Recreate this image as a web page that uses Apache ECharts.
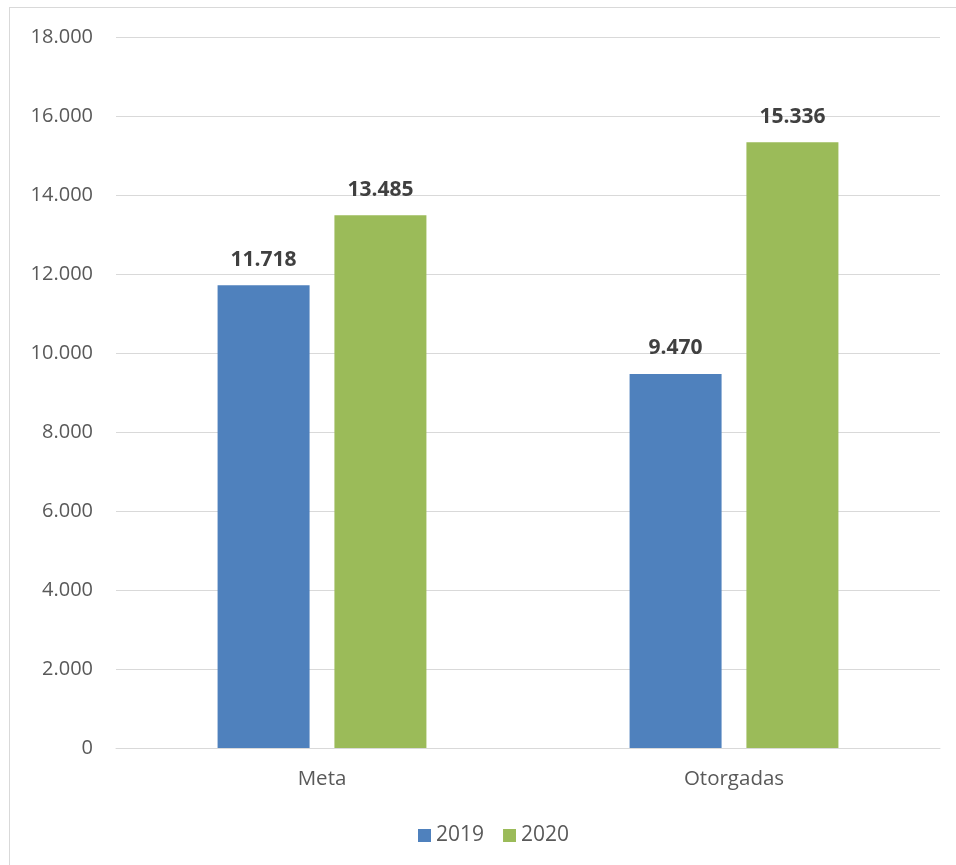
<!DOCTYPE html>
<html>
<head>
<meta charset="utf-8">
<script src="https://cdn.jsdelivr.net/npm/echarts@6/dist/echarts.min.js"></script>
<style>
  html, body { margin: 0; padding: 0; background: #fff; }
  #frame { position: absolute; left: 9px; top: 7px; width: 960px; height: 870px; border: 1px solid #d9d9d9; box-sizing: border-box; }
  #chart { position: absolute; left: 0; top: 0; width: 956px; height: 865px; }
</style>
</head>
<body>
<div id="frame"></div>
<div id="chart"></div>
<script>
const categories = ['Meta', 'Otorgadas'];
const seriesNames = ['2019', '2020'];
const values2019 = [11718, 9470];
const values2020 = [13485, 15336];
const colors = ['#4F81BD', '#9BBB59'];

const fmt = v => String(Math.round(v)).replace(/\B(?=(\d{3})+(?!\d))/g, '.');
const fontFamily = "'Open Sans', 'Noto Sans', sans-serif";

const chart = echarts.init(document.getElementById('chart'));
chart.setOption({
  animation: false,
  textStyle: { fontFamily },
  grid: { left: 116, right: 16, top: 37, bottom: 117, containLabel: false },
  legend: {
    data: seriesNames,
    top: 820,
    left: 413,
    itemWidth: 13,
    itemHeight: 13,
    itemGap: 19,
    icon: 'rect',
    textStyle: { fontSize: 21, color: '#595959', fontFamily }
  },
  xAxis: {
    type: 'category',
    data: categories,
    axisLine: { lineStyle: { color: '#d9d9d9', width: 1 } },
    axisTick: { show: false },
    axisLabel: { fontSize: 20.5, color: '#595959', margin: 21, fontFamily }
  },
  yAxis: {
    type: 'value',
    min: 0,
    max: 18000,
    interval: 2000,
    axisLine: { show: false },
    axisTick: { show: false },
    splitLine: { lineStyle: { color: '#d9d9d9', width: 1 } },
    axisLabel: { fontSize: 20, color: '#595959', margin: 23, formatter: fmt, fontFamily }
  },
  series: [
    { name: seriesNames[0], data: values2019, color: colors[0] },
    { name: seriesNames[1], data: values2020, color: colors[1] }
  ].map(s => ({
    name: s.name,
    type: 'bar',
    data: s.data,
    barWidth: 92,
    barGap: '27%',
    itemStyle: { color: s.color },
    label: {
      show: true,
      position: 'top',
      distance: 15,
      formatter: p => fmt(p.value),
      fontSize: 21,
      fontWeight: 'bold',
      color: '#404040',
      fontFamily
    }
  }))
});
</script>
</body>
</html>
